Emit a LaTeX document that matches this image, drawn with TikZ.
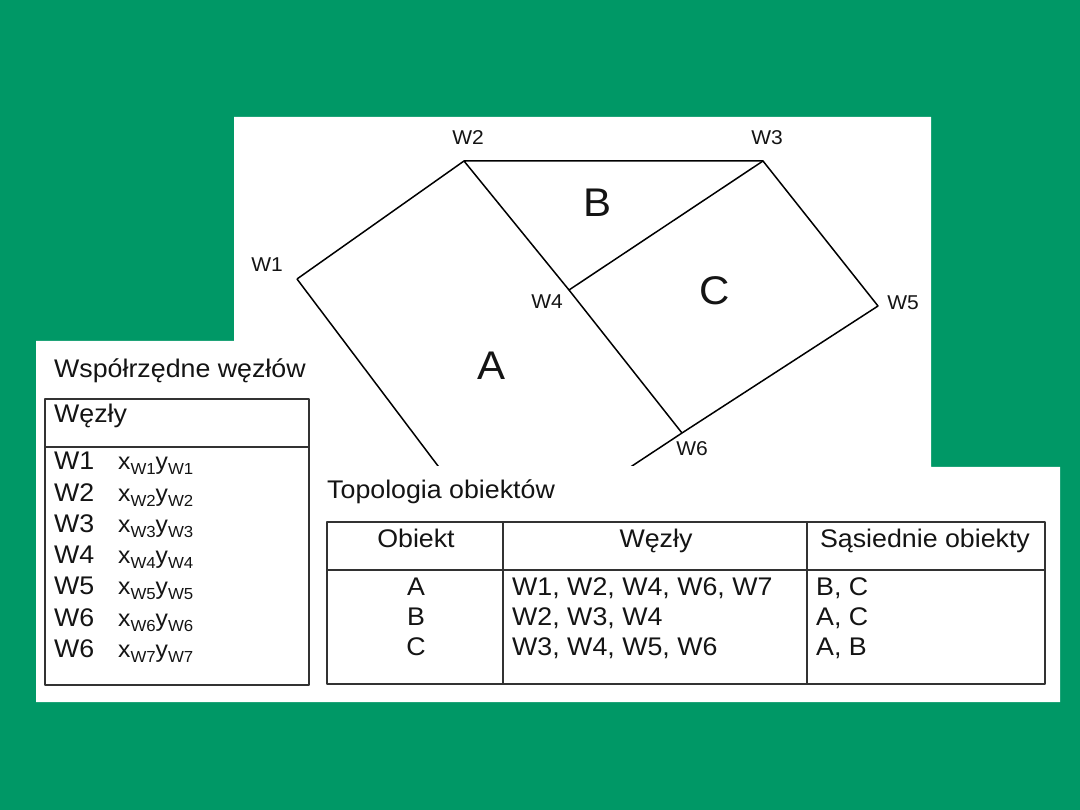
\documentclass[tikz,border=0pt]{standalone}
\usepackage{fontspec}
\setmainfont{Liberation Sans}[FakeStretch=1.05]
\definecolor{bggreen}{RGB}{0,152,102}
\definecolor{tline}{RGB}{50,50,50}
\definecolor{txtc}{RGB}{20,20,20}
\newcommand\coordxy[1]{x\raisebox{-5pt}{\fontsize{16}{16}\selectfont #1}y\raisebox{-5pt}{\fontsize{16}{16}\selectfont #1}}
\tikzset{
  lbl/.style={font=\fontsize{20}{20}\selectfont, inner sep=0pt, anchor=base, text=txtc},
  bigl/.style={font=\fontsize{40}{40}\selectfont, inner sep=0pt, anchor=base, text=txtc},
  txt/.style={font=\fontsize{25.5}{25.5}\selectfont, inner sep=0pt, anchor=base west, text=txtc},
  txtc/.style={font=\fontsize{25.5}{25.5}\selectfont, inner sep=0pt, anchor=base, text=txtc},
  crd/.style={font=\fontsize{23.5}{23.5}\selectfont, inner sep=0pt, anchor=base west, text=txtc},
  edge/.style={line width=1.5pt, black},
  tbl/.style={line width=1.5pt, tline}
}
\begin{document}
\begin{tikzpicture}[x=1pt,y=-1pt,line join=round]
\useasboundingbox (0,0) rectangle (1080,810);
\fill[bggreen] (0,0) rectangle (1080,810);
\fill[white] (234,117) -- (931,117) -- (931,467) -- (1060,467) -- (1060,702) -- (36,702) -- (36,341) -- (234,341) -- cycle;

% diagram
\coordinate (w1) at (297,279);
\coordinate (w2) at (464,161);
\coordinate (w3) at (763,161);
\coordinate (w4) at (569,290);
\coordinate (w5) at (878,306);
\coordinate (w6) at (682,433);
\coordinate (w7) at (502.5,551.5);
\begin{scope}
\clip (234,117) rectangle (931,466);
\draw[edge] (w1) -- (w2) -- (w3) -- (w5) -- (w6) -- (w4) -- (w2);
\draw[edge] (w4) -- (w3);
\draw[edge] (w6) -- (w7) -- (w1);
\end{scope}
\node[lbl] (lw1) at (267,272) {W1};
\node[lbl] (lw2) at (468,145) {W2};
\node[lbl] (lw3) at (767,145) {W3};
\node[lbl] (lw4) at (547,309) {W4};
\node[lbl] (lw5) at (903,310) {W5};
\node[lbl] (lw6) at (692,456) {W6};
\node[bigl] (la) at (492,380) {A};
\node[bigl] (lb) at (598,217) {B};
\node[bigl] (lc) at (715,305) {C};

% left table
\node[txt] (t1) at (54,378) {Współrzędne węzłów};
\draw[tbl] (45,399) rectangle (309,685);
\draw[tbl] (45,447) -- (309,447);
\node[txt] (h1) at (54,423) {Węzły};
\foreach \i/\lab/\sub in {0/W1/W1,1/W2/W2,2/W3/W3,3/W4/W4,4/W5/W5,5/W6/W6,6/W6/W7}{
  \node[txt] (r\i) at (54,{470+31.2*\i}) {\lab};
  \node[crd] (c\i) at (118,{470+31.2*\i}) {\coordxy{\sub}};
}

% right table
\node[txt] (t2) at (327,498) {Topologia obiektów};
\draw[tbl] (327,522) rectangle (1045,684);
\draw[tbl] (327,570) -- (1045,570);
\draw[tbl] (503,522) -- (503,684);
\draw[tbl] (807,522) -- (807,684);
\node[txtc] (ho) at (416,547) {Obiekt};
\node[txtc] (hw) at (656,547) {Węzły};
\node[txtc] (hs) at (925,547) {Sąsiednie obiekty};
\node[txtc] (oa) at (416,595) {A};
\node[txtc] (ob) at (416,625) {B};
\node[txtc] (oc) at (416,655) {C};
\node[txt] (wa) at (512,595) {W1, W2, W4, W6, W7};
\node[txt] (wb) at (512,625) {W2, W3, W4};
\node[txt] (wc) at (512,655) {W3, W4, W5, W6};
\node[txt] (sa) at (816,595) {B, C};
\node[txt] (sb) at (816,625) {A, C};
\node[txt] (sc) at (816,655) {A, B};
\end{tikzpicture}
\end{document}
